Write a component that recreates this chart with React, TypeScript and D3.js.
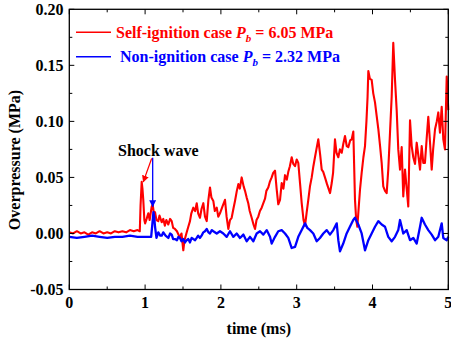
import React from "react";
import * as d3 from "d3";

// time (ms), overpressure (MPa)
const redT = [0,0.05,0.1,0.15,0.2,0.25,0.3,0.35,0.4,0.45,0.5,0.55,0.6,0.65,0.7,0.75,0.8,0.85,0.9,0.93,0.94,0.955,0.965,0.976,0.99,1.0,1.02,1.042,1.06,1.087,1.1,1.12,1.131,1.15,1.174,1.19,1.219,1.24,1.26,1.28,1.306,1.33,1.351,1.37,1.394,1.42,1.46,1.48,1.504,1.52,1.549,1.57,1.592,1.61,1.636,1.66,1.681,1.7,1.724,1.745,1.768,1.79,1.813,1.835,1.856,1.875,1.9,1.92,1.945,1.965,1.988,2.02,2.054,2.075,2.098,2.12,2.142,2.165,2.186,2.21,2.23,2.25,2.274,2.3,2.318,2.34,2.361,2.38,2.406,2.43,2.45,2.47,2.493,2.515,2.538,2.56,2.582,2.6,2.625,2.645,2.67,2.69,2.714,2.735,2.757,2.78,2.802,2.825,2.846,2.87,2.889,2.91,2.934,2.955,2.978,3.0,3.021,3.045,3.066,3.09,3.11,3.13,3.153,3.175,3.198,3.22,3.241,3.26,3.285,3.31,3.33,3.35,3.373,3.4,3.44,3.462,3.48,3.505,3.525,3.549,3.57,3.594,3.615,3.637,3.66,3.681,3.705,3.726,3.747,3.769,3.785,3.8,3.82,3.835,3.857,3.88,3.901,3.92,3.935,3.945,3.965,3.989,4.01,4.033,4.055,4.077,4.1,4.121,4.142,4.165,4.187,4.208,4.231,4.253,4.274,4.297,4.319,4.34,4.363,4.385,4.406,4.429,4.451,4.472,4.495,4.517,4.538,4.561,4.583,4.604,4.627,4.649,4.67,4.692,4.715,4.736,4.76,4.781,4.8,4.825,4.848,4.868,4.89,4.913,4.934,4.956,4.979,5.0];
const redV = [0.001,0.0,0.002,0.0,0.001,-0.001,0.001,0.0,0.002,0.0,0.001,0.0,0.002,0.001,0.002,0.001,0.003,0.002,0.003,0.002,0.025,0.046,0.04,0.03,0.012,0.009,0.013,0.018,0.012,0.024,0.026,0.016,0.019,0.012,0.011,0.016,0.01,0.013,0.007,0.012,0.008,0.013,0.011,0.005,0.004,0.002,-0.004,0.0,-0.015,-0.006,0.001,0.006,0.011,0.018,0.023,0.02,0.027,0.018,0.014,0.022,0.027,0.015,0.011,0.03,0.041,0.032,0.029,0.02,0.023,0.015,0.018,0.024,0.03,0.015,0.004,0.012,0.014,0.022,0.029,0.038,0.044,0.04,0.05,0.042,0.038,0.032,0.027,0.02,0.014,0.008,0.004,0.012,0.015,0.02,0.023,0.027,0.031,0.038,0.041,0.046,0.05,0.054,0.056,0.04,0.026,0.03,0.045,0.04,0.052,0.048,0.055,0.06,0.068,0.062,0.06,0.066,0.063,0.044,0.027,0.012,0.007,0.018,0.03,0.042,0.05,0.06,0.068,0.075,0.084,0.07,0.057,0.055,0.05,0.044,0.036,0.045,0.054,0.084,0.072,0.068,0.075,0.072,0.08,0.087,0.078,0.077,0.083,0.084,0.091,0.03,0.012,0.006,0.025,0.039,0.054,0.068,0.078,0.1,0.122,0.145,0.138,0.137,0.125,0.117,0.105,0.093,0.078,0.063,0.042,0.038,0.036,0.057,0.09,0.122,0.17,0.137,0.11,0.075,0.057,0.077,0.033,0.057,0.04,0.024,0.101,0.078,0.068,0.062,0.081,0.07,0.057,0.078,0.063,0.063,0.085,0.104,0.08,0.057,0.075,0.093,0.1,0.108,0.09,0.113,0.084,0.075,0.14,0.11];

const blueT = [0,0.1,0.2,0.3,0.4,0.5,0.6,0.7,0.8,0.9,1.0,1.08,1.095,1.11,1.12,1.131,1.15,1.174,1.2,1.219,1.24,1.27,1.306,1.33,1.351,1.37,1.394,1.42,1.44,1.46,1.48,1.504,1.527,1.549,1.57,1.592,1.614,1.636,1.66,1.681,1.7,1.724,1.745,1.768,1.79,1.813,1.835,1.856,1.88,1.9,1.945,1.988,2.032,2.076,2.12,2.164,2.208,2.252,2.296,2.34,2.384,2.428,2.472,2.516,2.56,2.604,2.648,2.67,2.714,2.757,2.802,2.846,2.889,2.934,2.978,3.021,3.066,3.11,3.14,3.176,3.219,3.264,3.307,3.351,3.396,3.439,3.483,3.528,3.549,3.571,3.614,3.659,3.702,3.746,3.769,3.813,3.857,3.901,3.945,3.989,4.033,4.077,4.121,4.165,4.208,4.253,4.297,4.34,4.363,4.406,4.451,4.495,4.538,4.583,4.627,4.649,4.692,4.736,4.781,4.825,4.868,4.913,4.934,4.979,5.0];
const blueV = [-0.003,-0.004,-0.003,-0.002,-0.003,-0.004,-0.003,-0.003,-0.002,-0.003,-0.003,-0.003,0.008,0.019,0.015,0.006,-0.004,0.001,-0.002,-0.002,0.001,-0.002,-0.004,0.0,-0.001,-0.005,-0.005,-0.006,-0.003,-0.004,-0.007,-0.005,-0.008,-0.006,-0.005,-0.008,-0.004,-0.005,-0.006,-0.004,-0.002,-0.004,-0.002,0.001,0.002,0.004,0.001,0.0,0.003,0.002,0.0,0.002,0.0,-0.003,0.002,-0.003,0.0,-0.004,-0.001,-0.007,-0.003,-0.007,0.0,0.002,-0.001,0.003,-0.003,-0.009,-0.003,0.002,0.003,0.0,-0.004,-0.013,-0.012,-0.003,0.003,0.009,0.005,0.003,0.0,-0.007,-0.004,0.0,0.003,-0.001,0.003,0.009,-0.006,-0.016,-0.009,0.0,0.006,0.012,0.014,0.008,0.0,-0.015,-0.006,0.0,0.006,0.011,0.008,0.006,-0.003,-0.007,-0.003,0.003,0.012,0.0,0.003,-0.006,-0.004,-0.009,0.006,0.014,0.008,0.003,-0.001,-0.006,-0.003,0.009,-0.004,-0.006,-0.003];

const xTicks = [0, 1, 2, 3, 4, 5];
const xMinor = [0.5, 1.5, 2.5, 3.5, 4.5];
const yTicks = [-0.05, 0.0, 0.05, 0.1, 0.15, 0.2];
const yMinor = [-0.025, 0.025, 0.075, 0.125, 0.175];

const W = 451, H = 342;
const L = 69.3, R = 448.3, T = 9.3, B = 289.5;
const FONT = "'Liberation Serif', 'Times New Roman', serif";

export default function App() {
  const x = d3.scaleLinear().domain([0, 5]).range([L, R]);
  const y = d3.scaleLinear().domain([-0.05, 0.2]).range([B, T]);
  const red = redT.map((t, i) => [t, redV[i]] as [number, number]);
  const blue = blueT.map((t, i) => [t, blueV[i]] as [number, number]);
  const line = d3.line<[number, number]>().x(d => x(d[0])).y(d => y(d[1]));

  const majorLen = 5, minorLen = 3;
  return (
    <svg width={W} height={H} style={{ position: "absolute", left: 0, top: 0, background: "#fff" }}>
      <defs>
        <marker id="ahR" viewBox="0 0 10 10" refX="9" refY="5" markerWidth="7" markerHeight="7" orient="auto" markerUnits="userSpaceOnUse">
          <path d="M0,0 L10,5 L0,10 z" fill="#ff0000" />
        </marker>
        <marker id="ahB" viewBox="0 0 10 10" refX="9" refY="5" markerWidth="7" markerHeight="7" orient="auto" markerUnits="userSpaceOnUse">
          <path d="M0,0 L10,5 L0,10 z" fill="#0000ff" />
        </marker>
      </defs>
      <path d={line(red) || ""} fill="none" stroke="#ff0000" strokeWidth={2.1} strokeLinejoin="round" />
      <path d={line(blue) || ""} fill="none" stroke="#0000ff" strokeWidth={2.3} strokeLinejoin="round" />

      {/* frame */}
      <rect x={L} y={T} width={R - L} height={B - T} fill="none" stroke="#000" strokeWidth={1.3} />
      {xTicks.map(t => (
        <g key={"xt" + t}>
          <line x1={x(t)} x2={x(t)} y1={B} y2={B - majorLen} stroke="#000" strokeWidth={1} />
          <line x1={x(t)} x2={x(t)} y1={T} y2={T + majorLen} stroke="#000" strokeWidth={1} />
          <text x={x(t)} y={308} textAnchor="middle" fontFamily={FONT} fontWeight="bold" fontSize={16}>{t}</text>
        </g>
      ))}
      {xMinor.map(t => (
        <g key={"xm" + t}>
          <line x1={x(t)} x2={x(t)} y1={B} y2={B - minorLen} stroke="#000" strokeWidth={1} />
          <line x1={x(t)} x2={x(t)} y1={T} y2={T + minorLen} stroke="#000" strokeWidth={1} />
        </g>
      ))}
      {yTicks.map(v => (
        <g key={"yt" + v}>
          <line x1={L} x2={L + majorLen} y1={y(v)} y2={y(v)} stroke="#000" strokeWidth={1} />
          <line x1={R} x2={R - majorLen} y1={y(v)} y2={y(v)} stroke="#000" strokeWidth={1} />
          <text x={63.5} y={y(v) + 5.5} textAnchor="end" fontFamily={FONT} fontWeight="bold" fontSize={16}>{v.toFixed(2)}</text>
        </g>
      ))}
      {yMinor.map(v => (
        <g key={"ym" + v}>
          <line x1={L} x2={L + minorLen} y1={y(v)} y2={y(v)} stroke="#000" strokeWidth={1} />
          <line x1={R} x2={R - minorLen} y1={y(v)} y2={y(v)} stroke="#000" strokeWidth={1} />
        </g>
      ))}

      <text x={(L + R) / 2} y={334} textAnchor="middle" fontFamily={FONT} fontWeight="bold" fontSize={16}>time (ms)</text>
      <text transform={`translate(20,160) rotate(-90)`} textAnchor="middle" fontFamily={FONT} fontWeight="bold" fontSize={16}>Overpressure (MPa)</text>

      {/* legend */}
      <line x1={76} x2={111} y1={32.3} y2={32.3} stroke="#ff0000" strokeWidth={1.5} />
      <text x={116} y={37.8} fontFamily={FONT} fontWeight="bold" fontSize={16} fill="#ff0000">
        Self-ignition case <tspan fontStyle="italic">P</tspan><tspan fontStyle="italic" fontSize={11} dy={4}>b</tspan><tspan dy={-4}> = 6.05 MPa</tspan>
      </text>
      <line x1={76} x2={111} y1={56.7} y2={56.7} stroke="#0000ff" strokeWidth={1.5} />
      <text x={120} y={62.2} fontFamily={FONT} fontWeight="bold" fontSize={16} fill="#0000ff">
        Non-ignition case <tspan fontStyle="italic">P</tspan><tspan fontStyle="italic" fontSize={11} dy={4}>b</tspan><tspan dy={-4}> = 2.32 MPa</tspan>
      </text>

      {/* annotation */}
      <text x={x(0.643)} y={y(0.0694)} fontFamily={FONT} fontWeight="bold" fontSize={16} fill="#000">Shock wave</text>
      <line x1={x(1.087)} y1={y(0.067)} x2={x(0.976)} y2={y(0.046)} stroke="#ff0000" strokeWidth={1.3} markerEnd="url(#ahR)" />
      <line x1={x(1.1)} y1={y(0.0676)} x2={x(1.1)} y2={y(0.024)} stroke="#0000ff" strokeWidth={1.3} markerEnd="url(#ahB)" />
    </svg>
  );
}
